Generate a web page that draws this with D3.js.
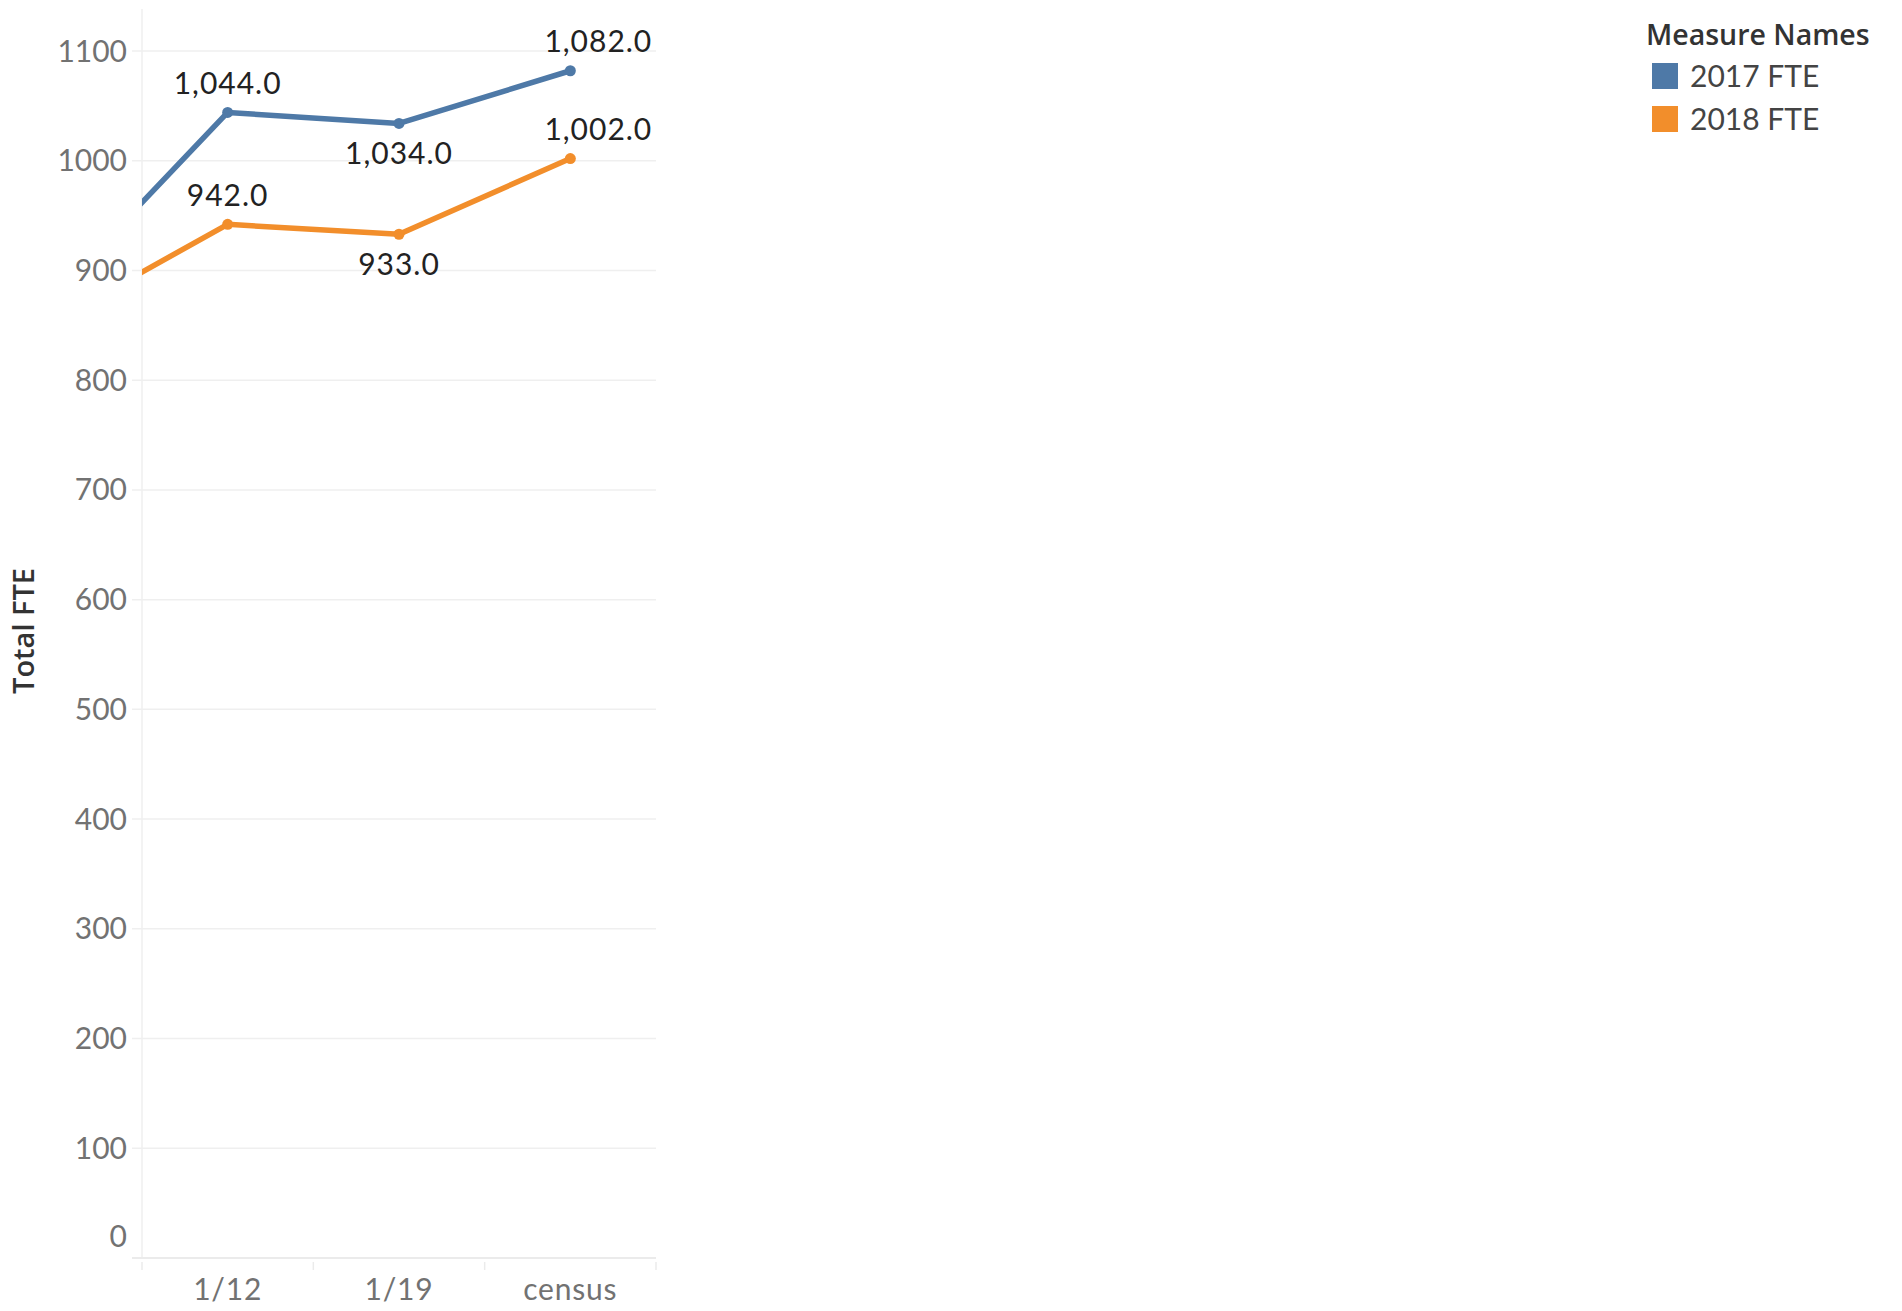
<!DOCTYPE html>
<html>
<head>
<meta charset="utf-8">
<script src="https://cdn.jsdelivr.net/npm/d3@7"></script>
<style>
  html, body { margin: 0; padding: 0; background: #fff; }
  svg { display: block; font-family: Lato, "Noto Sans", sans-serif; }
</style>
</head>
<body>
<svg id="chart" width="1902" height="1311"></svg>
<script>
// Categories (the first one is off-screen to the left, only its connecting segment shows)
const categories = ["1/5", "1/12", "1/19", "census"];
const visibleCategories = ["1/12", "1/19", "census"];
const seriesNames = ["2017 FTE", "2018 FTE"];
const values2017 = [880, 1044, 1034, 1082];
const values2018 = [855, 942, 933, 1002];
const yTicks = [0, 100, 200, 300, 400, 500, 600, 700, 800, 900, 1000, 1100];
const colors = ["#4e79a7", "#f28e2b"];

(function () {
const svg = d3.select("#chart");
const pLeft = 142, pRight = 656, pBottom = 1258, pTop = 9;
const bandW = (pRight - pLeft) / visibleCategories.length;

const x = d3.scaleBand().domain(categories).range([pLeft - bandW, pRight]).padding(0);
const y = d3.scaleLinear().domain([0, 1100]).range([pBottom, 51]);

svg.append("defs").append("clipPath").attr("id", "clip")
  .append("rect").attr("x", pLeft).attr("y", 0).attr("width", pRight - pLeft + 20).attr("height", pBottom + 5);

// gridlines
svg.append("g").selectAll("line").data(yTicks.filter(d => d > 0)).join("line")
  .attr("x1", pLeft - 10).attr("x2", pRight)
  .attr("y1", d => y(d)).attr("y2", d => y(d))
  .attr("stroke", "#efefef").attr("stroke-width", 1.5);

// vertical axis line
svg.append("line").attr("x1", pLeft).attr("x2", pLeft).attr("y1", pTop).attr("y2", pBottom)
  .attr("stroke", "#efefef").attr("stroke-width", 1.5);
// bottom axis line
svg.append("line").attr("x1", pLeft - 10).attr("x2", pRight).attr("y1", pBottom).attr("y2", pBottom)
  .attr("stroke", "#ebebeb").attr("stroke-width", 2);
// x band ticks
const boundaries = visibleCategories.map(c => x(c)).concat([x(visibleCategories[visibleCategories.length - 1]) + x.bandwidth()]);
svg.append("g").selectAll("line").data(boundaries).join("line")
  .attr("x1", d => d).attr("x2", d => d).attr("y1", pBottom + 4).attr("y2", pBottom + 12)
  .attr("stroke", "#ebebeb").attr("stroke-width", 1.5);

// y tick labels
svg.append("g").selectAll("text").data(yTicks).join("text")
  .attr("x", 127)
  .attr("y", d => d === 0 ? y(d) - 22 : y(d))
  .attr("dy", "0.35em")
  .attr("text-anchor", "end")
  .attr("font-size", 30)
  .attr("fill", "#727272")
  .text(d => d3.format("d")(d));

// x labels
svg.append("g").selectAll("text").data(visibleCategories).join("text")
  .attr("x", d => x(d) + x.bandwidth() / 2)
  .attr("y", 1289)
  .attr("dy", "0.35em")
  .attr("text-anchor", "middle")
  .attr("font-size", 30)
  .attr("letter-spacing", 0.8)
  .attr("fill", "#727272")
  .text(d => d);

// y axis title
svg.append("text")
  .attr("transform", "translate(24,631) rotate(-90)")
  .attr("dy", "0.35em")
  .attr("text-anchor", "middle")
  .attr("font-size", 29)
  .attr("font-weight", 600)
  .attr("font-family", "'Open Sans', Lato, sans-serif")
  .attr("fill", "#333")
  .text("Total FTE");

// lines
const series = [values2017, values2018];
const lineGen = d3.line()
  .x((d, i) => x(categories[i]) + x.bandwidth() / 2)
  .y(d => y(d));
const plot = svg.append("g").attr("clip-path", "url(#clip)");
series.forEach((vals, si) => {
  plot.append("path").datum(vals)
    .attr("d", lineGen)
    .attr("fill", "none")
    .attr("stroke", colors[si])
    .attr("stroke-width", 5.5)
    .attr("stroke-linejoin", "round");
  plot.append("g").selectAll("circle").data(vals).join("circle")
    .attr("cx", (d, i) => x(categories[i]) + x.bandwidth() / 2)
    .attr("cy", d => y(d))
    .attr("r", 5.5)
    .attr("fill", colors[si]);
});

// value labels
const fmt = d3.format(",.1f");
series.forEach((vals, si) => {
  vals.forEach((v, i) => {
    const cat = categories[i];
    if (!visibleCategories.includes(cat)) return;
    const cx = x(cat) + x.bandwidth() / 2;
    const prev = i > 0 ? vals[i - 1] : null;
    const next = i < vals.length - 1 ? vals[i + 1] : null;
    const isLast = next === null;
    const below = prev !== null && next !== null && prev > v && next > v;
    const tx = isLast ? cx + 28 : cx;
    const ty = below ? y(v) + 30 : y(v) - 29;
    svg.append("text")
      .attr("x", tx).attr("y", ty)
      .attr("dy", "0.35em")
      .attr("text-anchor", "middle")
      .attr("font-size", 30)
      .attr("letter-spacing", 1)
      .attr("fill", "#222")
      .text(fmt(v));
  });
});

// legend
const lg = svg.append("g");
lg.append("text").attr("x", 1646).attr("y", 35).attr("dy", "0.35em")
  .attr("font-size", 28.5).attr("font-weight", 600)
  .attr("font-family", "'Open Sans', Lato, sans-serif")
  .attr("fill", "#333")
  .text("Measure Names");
seriesNames.forEach((n, i) => {
  const cy = 76 + i * 43;
  lg.append("rect").attr("x", 1652).attr("y", cy - 13).attr("width", 26).attr("height", 26)
    .attr("fill", colors[i]);
  lg.append("text").attr("x", 1690).attr("y", cy).attr("dy", "0.35em")
    .attr("font-size", 30).attr("fill", "#444").text(n);
});
})();
</script>
</body>
</html>
